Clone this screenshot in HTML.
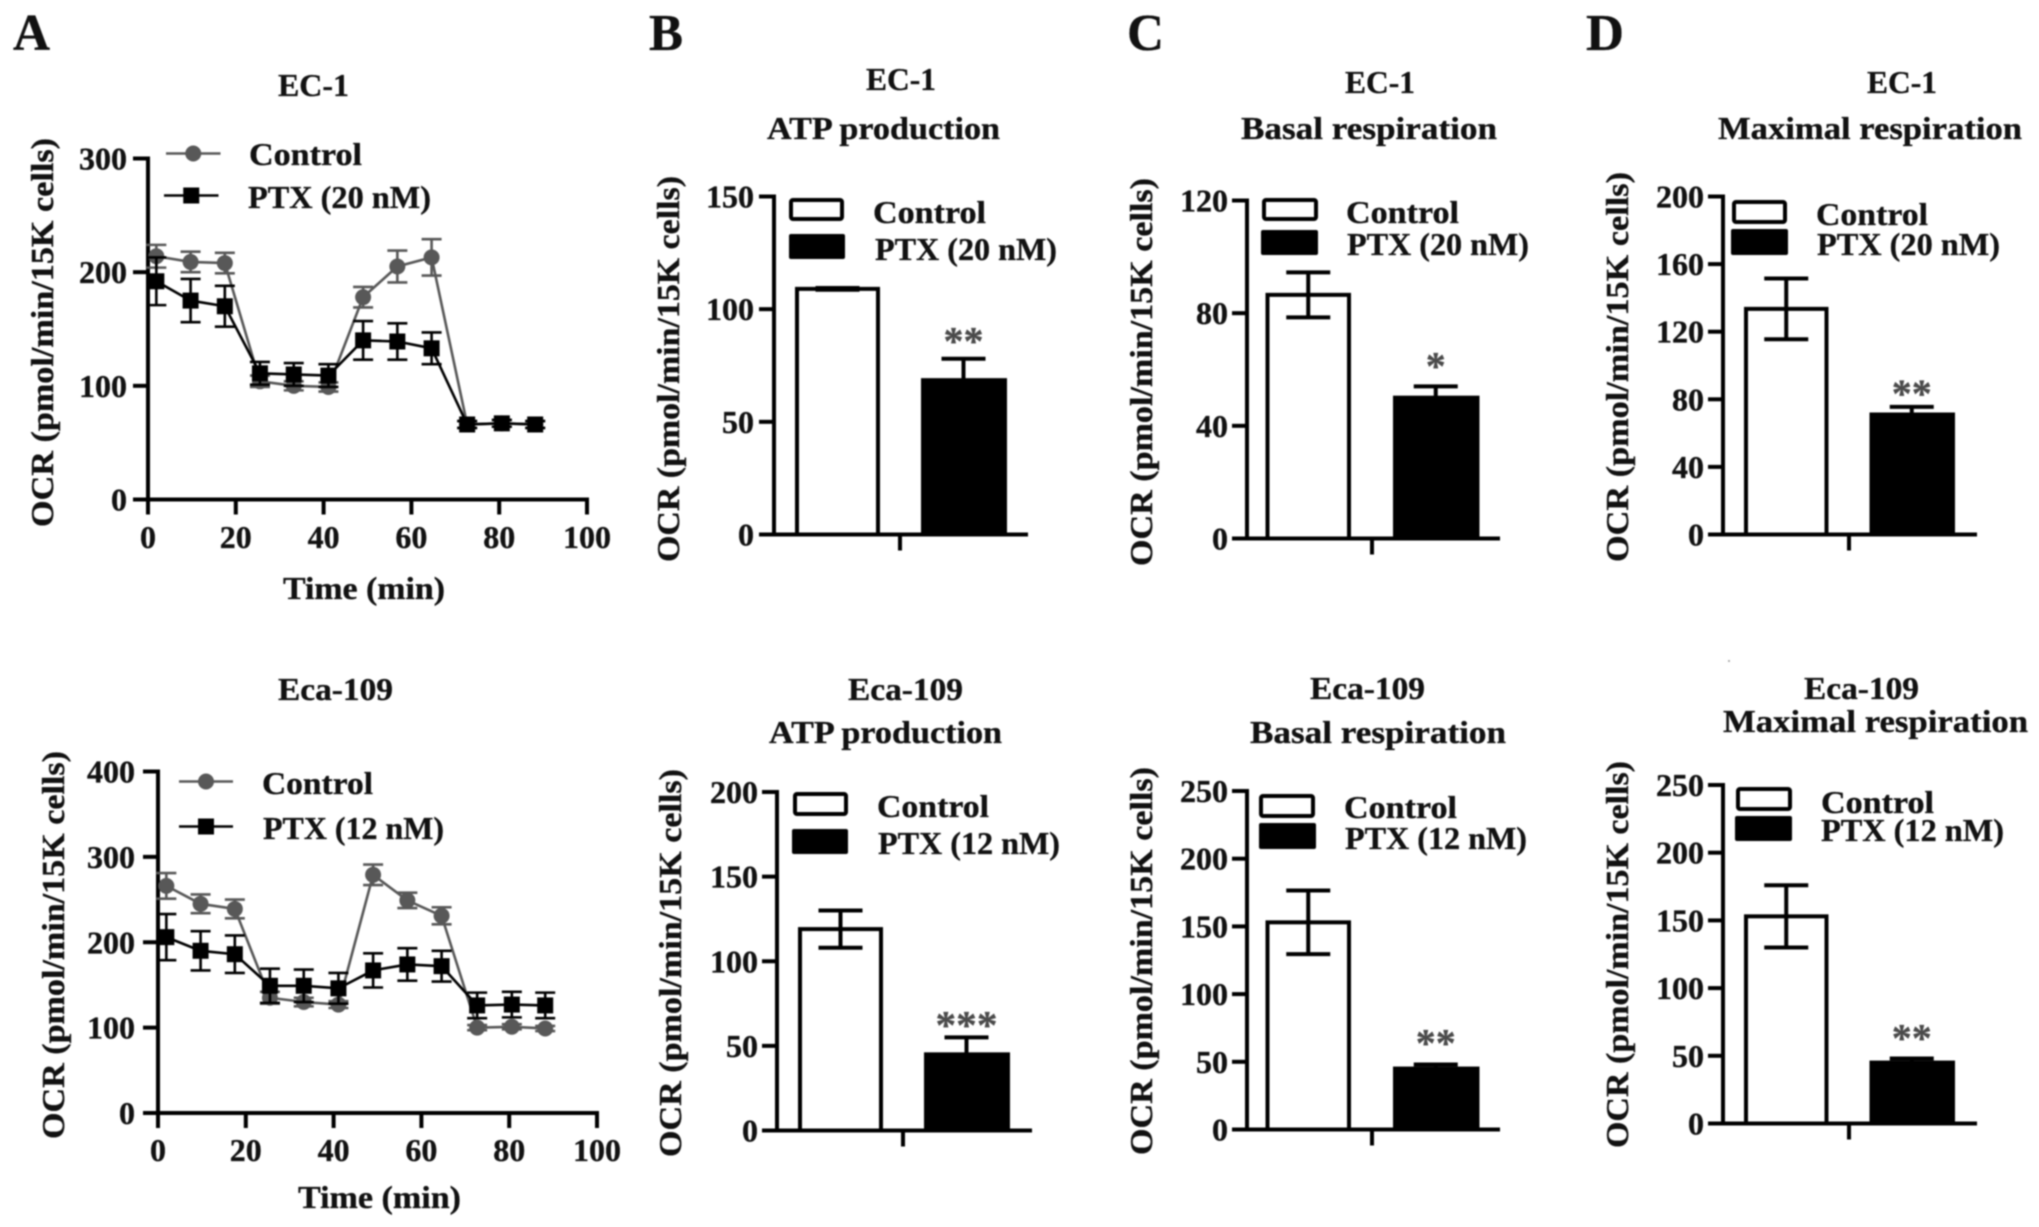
<!DOCTYPE html>
<html lang="en">
<head>
<meta charset="utf-8">
<title>OCR panels: EC-1 and Eca-109</title>
<style>
html,body{margin:0;padding:0;background:#fff;}
#figure{display:block;width:2039px;height:1227px;filter:blur(0.7px);}
text{font-family:"Liberation Serif","DejaVu Serif",serif;font-weight:bold;fill:#111;stroke:#111;stroke-width:0.35px;}
</style>
</head>
<body>
<svg id="figure" xmlns="http://www.w3.org/2000/svg" width="2039" height="1227" viewBox="0 0 2039 1227"></svg>
<script>
/* ---------- Line chart data (panel A) ---------- */
const timeMinutes = [1.9, 9.7, 17.5, 25.5, 33.2, 41.1, 49, 56.8, 64.6, 72.7, 80.6, 88.2];
const timeTicks = [0, 20, 40, 60, 80, 100];

const ec1Ticks = [0, 100, 200, 300];
const ec1Control = [214, 209, 208, 104, 100, 99, 178, 205, 213, 66, 67, 66];
const ec1ControlErr = [10, 9, 9, 5, 4, 4, 9, 14, 16, 3, 3, 3];
const ec1Ptx = [192, 175, 170, 111, 110, 109, 140, 139, 133, 66, 67, 66];
const ec1PtxErr = [21, 19, 18, 10, 10, 10, 17, 16, 14, 3, 3, 3];

const ecaTicks = [0, 100, 200, 300, 400];
const ecaControl = [266, 245, 239, 135, 130, 127, 279, 249, 231, 100, 101, 99];
const ecaControlErr = [15, 11, 11, 7, 5, 4, 12, 9, 10, 3, 3, 3];
const ecaPtx = [206, 190, 186, 149, 149, 146, 167, 174, 172, 126, 127, 126];
const ecaPtxErr = [27, 23, 22, 20, 19, 18, 20, 19, 18, 15, 15, 15];

/* ---------- Bar chart data (panels B, C, D) ---------- */
const atpEc1Ticks = [0, 50, 100, 150];
const atpEc1Values = [109, 68.5];
const atpEc1Errs = [0.4, 9.5];

const atpEcaTicks = [0, 50, 100, 150, 200];
const atpEcaValues = [119, 45];
const atpEcaErrs = [11, 10];

const basalEc1Ticks = [0, 40, 80, 120];
const basalEc1Values = [86.5, 50];
const basalEc1Errs = [8, 4];

const basalEcaTicks = [0, 50, 100, 150, 200, 250];
const basalEcaValues = [153, 45];
const basalEcaErrs = [23.5, 3];

const maxEc1Ticks = [0, 40, 80, 120, 160, 200];
const maxEc1Values = [133.5, 71];
const maxEc1Errs = [18, 4.5];

const maxEcaTicks = [0, 50, 100, 150, 200, 250];
const maxEcaValues = [153, 45];
const maxEcaErrs = [23, 3];

const OCR_LABEL = 'OCR (pmol/min/15K cells)';
const SVG_NS = 'http://www.w3.org/2000/svg';
const figure = document.getElementById('figure');

function svgEl(tag, parent, name, props) {
  const el = document.createElementNS(SVG_NS, tag);
  
  
  for (const k in props) el.setAttribute(k, props[k]);
  parent.appendChild(el);
  return el;
}
function group(parent, name) { return svgEl('g', parent, name, {}); }
function line(parent, name, x1, y1, x2, y2, stroke, w) {
  return svgEl('line', parent, name, { x1, y1, x2, y2, stroke: stroke || '#000', 'stroke-width': w || 4, 'stroke-linecap': 'butt' });
}
function label(parent, name, str, x, y, size, o) {
  o = o || {};
  const props = { x, y, 'font-size': size, 'text-anchor': o.anchor || 'start' };
  if (o.len) { props.textLength = o.len; props.lengthAdjust = 'spacingAndGlyphs'; }
  if (o.rotate) props.transform = 'rotate(-90 ' + x + ' ' + y + ')';
  if (o.fill) props.style = 'fill:' + o.fill + ';stroke:' + o.fill;
  const el = svgEl('text', parent, name, props);
  el.textContent = str;
  return el;
}
function yAxis(g, c, yScale, ticks) {
  const xa = c.axisX;
  line(g, 'y-axis-line', xa, yScale(ticks[ticks.length - 1]) - 2, xa, c.y0 + 2);
  ticks.forEach(function (t) {
    line(g, 'y-tick-' + t, xa - (c.tickLen || 15), yScale(t), xa, yScale(t));
    label(g, 'y-tick-label-' + t, String(t), c.tickRight, yScale(t) + 11, 32, { anchor: 'end' });
  });
}
function titles(g, c) {
  c.titles.forEach(function (t, i) {
    label(g, 'chart-title-' + (i + 1), t[0], t[1], t[2], 32, { len: t[3] });
  });
}
function yTitle(g, c) {
  label(g, 'y-axis-title', OCR_LABEL, c.yTitle[0], c.yTitle[1], 32, { rotate: true, len: c.yTitle[2] });
}

/* ---------- Line panel ---------- */
function drawLinePanel(c) {
  const g = group(figure, c.name);
  const xScale = function (v) { return c.axisX + (v / 100) * (c.x100 - c.axisX); };
  const maxY = c.ticks[c.ticks.length - 1];
  const yScale = function (v) { return c.y0 - (v / maxY) * (c.y0 - c.yTop); };

  titles(g, c);
  yTitle(g, c);
  yAxis(g, c, yScale, c.ticks);

  line(g, 'x-axis-line', c.axisX - 2, c.y0, c.x100 + 2, c.y0);
  timeTicks.forEach(function (t) {
    line(g, 'x-tick-' + t, xScale(t), c.y0, xScale(t), c.y0 + 15);
    label(g, 'x-tick-label-' + t, String(t), xScale(t), c.xTickBase, 32, { anchor: 'middle' });
  });
  label(g, 'x-axis-title', 'Time (min)', c.xTitle[0], c.xTitle[1], 32, { len: c.xTitle[2] });

  function drawSeries(key, vals, errs, color, square) {
    const s = group(g, 'series-' + key);
    const pts = vals.map(function (v, i) { return xScale(timeMinutes[i]) + ',' + yScale(v); }).join(' ');
    svgEl('polyline', s, key + '-line', { points: pts, fill: 'none', stroke: color, 'stroke-width': 2.6 });
    vals.forEach(function (v, i) {
      const x = xScale(timeMinutes[i]);
      const hi = yScale(v + errs[i]);
      const lo = yScale(v - errs[i]);
      line(s, key + '-error-stem-' + i, x, hi, x, lo, color, 2.6);
      line(s, key + '-error-cap-top-' + i, x - 10, hi, x + 10, hi, color, 2.6);
      line(s, key + '-error-cap-bottom-' + i, x - 10, lo, x + 10, lo, color, 2.6);
      if (square) {
        svgEl('rect', s, key + '-point-' + i, { x: x - 8, y: yScale(v) - 8, width: 16, height: 16, fill: color });
      } else {
        svgEl('circle', s, key + '-point-' + i, { cx: x, cy: yScale(v), r: 8, fill: color });
      }
    });
  }
  drawSeries('control', c.control, c.controlErr, '#585858', false);
  drawSeries('ptx', c.ptx, c.ptxErr, '#000', true);

  const L = c.legend;
  const lg = group(g, 'legend');
  line(lg, 'legend-control-line', L.x1[0], L.cy1, L.x1[1], L.cy1, '#585858', 2.6);
  svgEl('circle', lg, 'legend-control-marker', { cx: (L.x1[0] + L.x1[1]) / 2, cy: L.cy1, r: 8, fill: '#585858' });
  label(lg, 'legend-control-label', 'Control', L.t1[0], L.t1[1], 32, { len: L.t1[2] });
  line(lg, 'legend-ptx-line', L.x2[0], L.cy2, L.x2[1], L.cy2, '#000', 2.6);
  svgEl('rect', lg, 'legend-ptx-marker', { x: (L.x2[0] + L.x2[1]) / 2 - 8, y: L.cy2 - 8, width: 16, height: 16, fill: '#000' });
  label(lg, 'legend-ptx-label', L.dose, L.t2[0], L.t2[1], 32, { len: L.t2[2] });
}

/* ---------- Bar panel ---------- */
function drawBarPanel(c) {
  const g = group(figure, c.name);
  const maxY = c.ticks[c.ticks.length - 1];
  const yScale = function (v) { return c.y0 - (v / maxY) * (c.y0 - c.yTop); };
  const xBand = function (i) { return c.barLeft + i * c.barStep; };

  titles(g, c);
  yTitle(g, c);

  c.values.forEach(function (v, i) {
    const left = xBand(i);
    const cx = left + c.barW / 2;
    const isCtrl = i === 0;
    const yv = yScale(v);
    const hi = yScale(v + c.errs[i]);
    const lo = yScale(v - c.errs[i]);
    const nm = isCtrl ? 'control' : 'ptx';
    line(g, 'error-stem-' + nm, cx, hi, cx, isCtrl ? lo : yv, '#000', 4);
    line(g, 'error-cap-top-' + nm, cx - 22, hi, cx + 22, hi, '#000', 4);
    if (isCtrl) {
      svgEl('rect', g, 'bar-control', { x: left + 2, y: yv, width: c.barW - 4, height: c.y0 - yv, fill: 'none', stroke: '#000', 'stroke-width': 4 });
      line(g, 'error-cap-bottom-control', cx - 22, lo, cx + 22, lo, '#000', 4);
    } else {
      svgEl('rect', g, 'bar-ptx', { x: left, y: yv - 2, width: c.barW + 1, height: c.y0 - yv + 2, fill: '#000' });
      const st = c.stars;
      label(g, 'significance-stars', st.text, cx, hi - st.gap, 40, { anchor: 'middle', len: st.len, fill: '#4a4a4a' });
    }
  });

  yAxis(g, c, yScale, c.ticks);
  line(g, 'x-axis-line', c.axisX - 15, c.y0, c.xEnd, c.y0);
  line(g, 'x-tick', c.xTick, c.y0, c.xTick, c.y0 + 16);

  const L = c.legend;
  const lg = group(g, 'legend');
  svgEl('rect', lg, 'legend-control-swatch', { x: L.box1[0] + 2, y: L.box1[1] + 2, width: L.box1[2] - 4, height: L.box1[3] - 4, rx: 2, fill: '#fff', stroke: '#000', 'stroke-width': 4 });
  svgEl('rect', lg, 'legend-ptx-swatch', { x: L.box2[0], y: L.box2[1], width: L.box2[2], height: L.box2[3], rx: 2, fill: '#000' });
  label(lg, 'legend-control-label', 'Control', L.t1[0], L.t1[1], 32, { len: L.t1[2] });
  label(lg, 'legend-ptx-label', L.dose, L.t2[0], L.t2[1], 32, { len: L.t2[2] });
}

/* ---------- Panel letters ---------- */
const letters = group(figure, 'panel-letters');
label(letters, 'panel-letter-a', 'A', 13, 50, 52, { len: 37 });
label(letters, 'panel-letter-b', 'B', 649, 50, 52, { len: 34 });
label(letters, 'panel-letter-c', 'C', 1127, 50, 52, { len: 37 });
label(letters, 'panel-letter-d', 'D', 1586, 50, 52, { len: 38 });

/* ---------- Panels ---------- */
drawLinePanel({
  name: 'panel-a-ec1', axisX: 148, x100: 587, yTop: 158.5, y0: 499.5, tickRight: 127,
  ticks: ec1Ticks, control: ec1Control, controlErr: ec1ControlErr, ptx: ec1Ptx, ptxErr: ec1PtxErr,
  titles: [['EC-1', 278, 96, 71]], yTitle: [53, 527, 389], xTickBase: 548, xTitle: [283, 599, 162],
  legend: { dose: 'PTX (20 nM)', x1: [166, 220.5], cy1: 153.5, x2: [164, 218.5], cy2: 195.5, t1: [249, 165, 113], t2: [248, 208, 183] }
});
drawLinePanel({
  name: 'panel-a-eca109', axisX: 158, x100: 597, yTop: 771.5, y0: 1113, tickRight: 135,
  ticks: ecaTicks, control: ecaControl, controlErr: ecaControlErr, ptx: ecaPtx, ptxErr: ecaPtxErr,
  titles: [['Eca-109', 278, 700, 115]], yTitle: [64, 1139, 388], xTickBase: 1161, xTitle: [298, 1208, 163],
  legend: { dose: 'PTX (12 nM)', x1: [179, 233], cy1: 781.5, x2: [179, 233], cy2: 826.5, t1: [262, 794, 111], t2: [263, 839, 181] }
});

drawBarPanel({
  name: 'panel-b-ec1', axisX: 774, xEnd: 1028, xTick: 900, yTop: 196.5, y0: 534.5, tickRight: 754,
  barLeft: 795, barW: 85, barStep: 126,
  ticks: atpEc1Ticks, values: atpEc1Values, errs: atpEc1Errs, stars: { text: '**', len: 40, gap: 4 },
  titles: [['EC-1', 866, 90, 70], ['ATP production', 767, 139, 233]], yTitle: [679, 562, 386],
  legend: { dose: 'PTX (20 nM)', box1: [789, 198, 55, 23], box2: [789, 234, 56, 25], t1: [873, 223, 113], t2: [875, 260, 182] }
});
drawBarPanel({
  name: 'panel-b-eca109', axisX: 777, xEnd: 1032, xTick: 903, yTop: 792, y0: 1130.5, tickRight: 758,
  barLeft: 798, barW: 85, barStep: 126,
  ticks: atpEcaTicks, values: atpEcaValues, errs: atpEcaErrs, stars: { text: '***', len: 62, gap: -1 },
  titles: [['Eca-109', 848, 700, 115], ['ATP production', 769, 743, 233]], yTitle: [681, 1157, 388],
  legend: { dose: 'PTX (12 nM)', box1: [793, 792, 55, 24], box2: [792, 829, 56, 25], t1: [877, 817, 112], t2: [878, 854, 182] }
});
drawBarPanel({
  name: 'panel-c-ec1', axisX: 1247, xEnd: 1500, xTick: 1372, yTop: 200.5, y0: 538.5, tickRight: 1228,
  barLeft: 1265.5, barW: 85.5, barStep: 127.5,
  ticks: basalEc1Ticks, values: basalEc1Values, errs: basalEc1Errs, stars: { text: '*', len: 20, gap: 7 },
  titles: [['EC-1', 1345, 93, 70], ['Basal respiration', 1241, 139, 256]], yTitle: [1152, 566, 388],
  legend: { dose: 'PTX (20 nM)', box1: [1262, 198, 56, 23], box2: [1261, 230, 57, 25], t1: [1346, 223, 113], t2: [1347, 255, 182] }
});
drawBarPanel({
  name: 'panel-c-eca109', axisX: 1247, xEnd: 1500, xTick: 1372, yTop: 791, y0: 1129.5, tickRight: 1228,
  barLeft: 1265.5, barW: 85.5, barStep: 127.5,
  ticks: basalEcaTicks, values: basalEcaValues, errs: basalEcaErrs, stars: { text: '**', len: 40, gap: 8 },
  titles: [['Eca-109', 1310, 699, 115], ['Basal respiration', 1250, 743, 256]], yTitle: [1152, 1155, 388],
  legend: { dose: 'PTX (12 nM)', box1: [1259, 794, 56, 24], box2: [1259, 823, 57, 26], t1: [1344, 818, 113], t2: [1345, 849, 182] }
});
drawBarPanel({
  name: 'panel-d-ec1', axisX: 1723, xEnd: 1977, xTick: 1849, yTop: 196.5, y0: 534.5, tickRight: 1704,
  barLeft: 1744, barW: 84.5, barStep: 125.5,
  ticks: maxEc1Ticks, values: maxEc1Values, errs: maxEc1Errs, stars: { text: '**', len: 40, gap: 0 },
  titles: [['EC-1', 1867, 93, 70], ['Maximal respiration', 1718, 139, 304]], yTitle: [1628, 562, 390],
  legend: { dose: 'PTX (20 nM)', box1: [1732, 200, 55, 24], box2: [1731, 229, 57, 26], t1: [1816, 225, 112], t2: [1817, 255, 183] }
});
drawBarPanel({
  name: 'panel-d-eca109', axisX: 1723, xEnd: 1977, xTick: 1849, yTop: 785, y0: 1123.5, tickRight: 1704,
  barLeft: 1744, barW: 84.5, barStep: 125.5,
  ticks: maxEcaTicks, values: maxEcaValues, errs: maxEcaErrs, stars: { text: '**', len: 40, gap: 7 },
  titles: [['Eca-109', 1804, 699, 115], ['Maximal respiration', 1723, 732, 305]], yTitle: [1628, 1148, 387],
  legend: { dose: 'PTX (12 nM)', box1: [1736, 787, 56, 24], box2: [1735, 816, 57, 25], t1: [1821, 813, 113], t2: [1821, 841, 183] }
});

svgEl('circle', figure, 'scan-speck', { cx: 1729, cy: 661, r: 1, fill: '#999' });
</script>
</body>
</html>
